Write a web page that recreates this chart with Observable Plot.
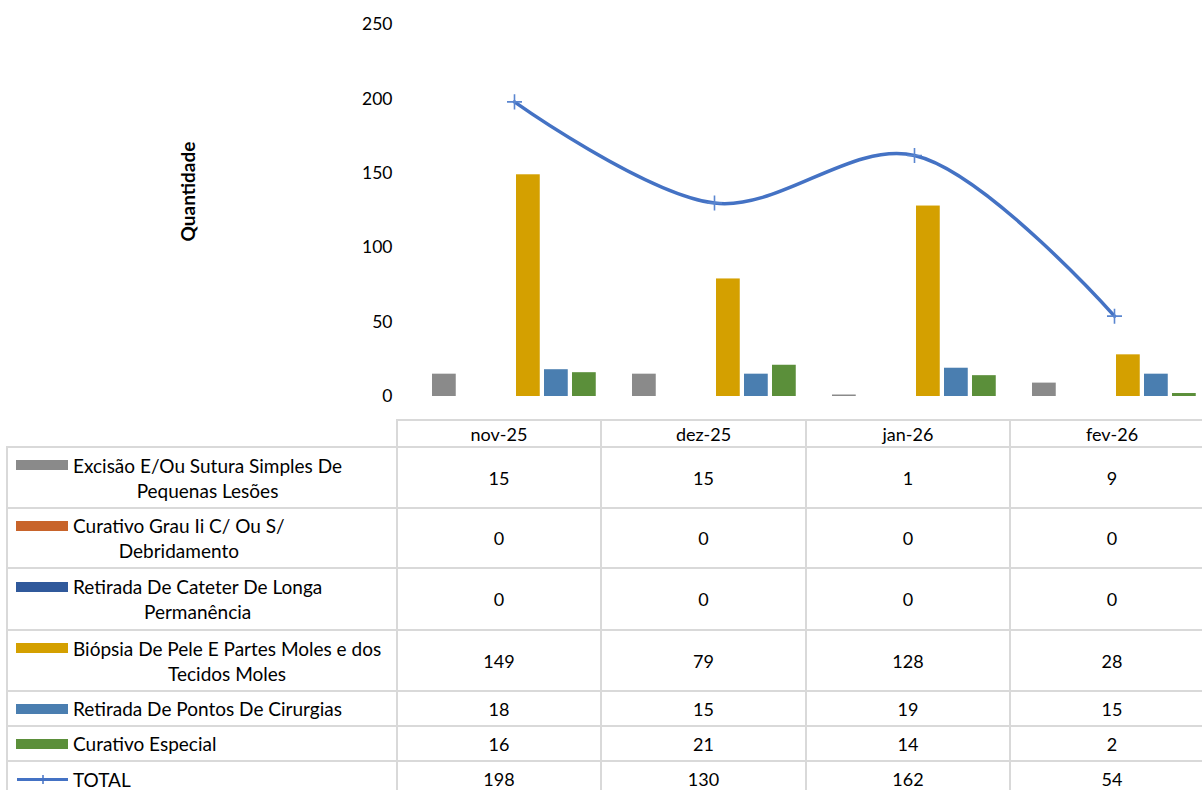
<!DOCTYPE html>
<html>
<head>
<meta charset="utf-8">
<script src="https://cdn.jsdelivr.net/npm/d3@7"></script>
<script src="https://cdn.jsdelivr.net/npm/@observablehq/plot@0.6"></script>
<style>
  html, body { margin: 0; padding: 0; background: #fff; }
  #wrap { position: relative; width: 1202px; height: 790px; overflow: hidden; font-family: Lato, "Open Sans", sans-serif; color: #000; }
  #chart { position: absolute; left: 0; top: 0; }
  .hl { position: absolute; height: 2px; background: #d9d9d9; }
  .vl { position: absolute; width: 2px; background: #d9d9d9; }
  .cell { position: absolute; display: flex; align-items: center; justify-content: center; font-size: 18px; }
  .lab { position: absolute; display: flex; align-items: center; font-size: 19px; }
  .lab .txt { white-space: pre-line; text-align: center; line-height: 25px; }
  .lab .key { flex: none; width: 52px; margin-left: 9px; margin-right: 5px; align-self: flex-start; }
</style>
</head>
<body>
<div id="wrap">
  <div id="chart"></div>
  <div id="table"></div>
</div>
<script>
// ---- data ----
const months = ["nov-25", "dez-25", "jan-26", "fev-26"];
const seriesNames = [
  "Excisão E/Ou Sutura Simples De\nPequenas Lesões",
  "Curativo Grau Ii C/ Ou S/\nDebridamento",
  "Retirada De Cateter De Longa\nPermanência",
  "Biópsia De Pele E Partes Moles e dos\nTecidos Moles",
  "Retirada De Pontos De Cirurgias",
  "Curativo Especial"
];
const totalName = "TOTAL";
const excisao = [15, 15, 1, 9];
const curativoGrau = [0, 0, 0, 0];
const retiradaCateter = [0, 0, 0, 0];
const biopsia = [149, 79, 128, 28];
const retiradaPontos = [18, 15, 19, 15];
const curativoEspecial = [16, 21, 14, 2];
const total = [198, 130, 162, 54];
const yTicks = [0, 50, 100, 150, 200, 250];
const yLabel = "Quantidade";

// ---- styles ----
const colors = ["#8a8a8a", "#c8642b", "#30599b", "#d4a000", "#4a7eb0", "#5b8f3a"];
const lineColor = "#4472c4";
const seriesValues = [excisao, curativoGrau, retiradaCateter, biopsia, retiradaPontos, curativoEspecial];

const xRange = [413, 1214];
const bandW = (xRange[1] - xRange[0]) / months.length;
const barW = 24, barStep = 28, groupPad = 18;

const barMarks = seriesValues.map((vals, k) => {
  const data = months.map((m, i) => ({month: m, value: vals[i]}));
  const left = groupPad + barStep * k;
  return Plot.barY(data, {
    x: "month", y: "value", fill: colors[k],
    insetLeft: left, insetRight: bandW - left - barW
  });
});
const totalData = months.map((m, i) => ({month: m, value: total[i]}));

const chart = Plot.plot({
  width: 1202, height: 420,
  marginTop: 24, marginBottom: 24, marginLeft: 397, marginRight: 0,
  style: {fontFamily: "Lato, 'Open Sans', sans-serif", fontSize: "17px", color: "#000", background: "transparent"},
  x: {domain: months, range: xRange, padding: 0, axis: null},
  y: {domain: [0, 250], axis: null},
  marks: [
    Plot.axisY({ticks: yTicks, tickSize: 0, tickPadding: 5, label: null, fontSize: 17.5, fill: "#000"}),
    ...barMarks,
    Plot.line(totalData, {x: "month", y: "value", curve: "catmull-rom", stroke: lineColor, strokeWidth: 3.5}),
    Plot.dot(totalData, {x: "month", y: "value", symbol: "plus", r: 4.9, stroke: "#5a86d0", strokeWidth: 1.6}),
    Plot.text([yLabel], {text: d => d, frameAnchor: "left", textAnchor: "middle", rotate: -90, dx: -209, dy: -19, fontWeight: "bold", fontSize: 19, fill: "#000"})
  ]
});
document.getElementById("chart").appendChild(chart);

// ---- data table ----
const rowTops = [420, 447, 508, 568, 630, 691, 726, 761, 797];
const colLefts = [7, 397, 601, 806, 1010, 1214];
const tbl = document.getElementById("table");
function add(cls, st, html) {
  const d = document.createElement("div");
  d.className = cls;
  Object.assign(d.style, st);
  if (html != null) d.innerHTML = html;
  tbl.appendChild(d);
  return d;
}
// horizontal lines
rowTops.forEach((y, r) => {
  const x0 = r === 0 ? colLefts[1] : colLefts[0];
  add("hl", {left: (x0 - 1) + "px", top: (y - 1) + "px", width: (colLefts[colLefts.length - 1] - x0 + 2) + "px"});
});
// vertical lines
colLefts.forEach((x, c) => {
  const y0 = c === 0 ? rowTops[1] : rowTops[0];
  add("vl", {left: (x - 1) + "px", top: (y0 - 1) + "px", height: (rowTops[rowTops.length - 1] - y0 + 2) + "px"});
});
// header
months.forEach((m, i) => {
  add("cell", {left: colLefts[i + 1] + "px", top: rowTops[0] + "px", width: (colLefts[i + 2] - colLefts[i + 1]) + "px", height: (rowTops[1] - rowTops[0]) + "px"}, m);
});
const rowVals = [...seriesValues, total];
const rowNames = [...seriesNames, totalName];
rowNames.forEach((name, r) => {
  const top = rowTops[r + 1], h = rowTops[r + 2] - top;
  const lab = add("lab", {left: colLefts[0] + "px", top: top + "px", width: (colLefts[1] - colLefts[0]) + "px", height: h + "px"});
  const inner = document.createElement("div");
  inner.style.display = "flex";
  const key = document.createElement("div");
  key.className = "key";
  if (r < seriesNames.length) {
    key.style.height = "10px";
    key.style.marginTop = "7.5px";
    key.style.background = colors[r];
  } else {
    key.style.height = "25px";
    key.innerHTML = `<svg width="52" height="25"><line x1="1" x2="52" y1="12.5" y2="12.5" stroke="${lineColor}" stroke-width="3"/><line x1="27" x2="27" y1="8" y2="17" stroke="${lineColor}" stroke-width="1.5"/></svg>`;
  }
  const txt = document.createElement("div");
  txt.className = "txt";
  txt.textContent = name;
  inner.appendChild(key);
  inner.appendChild(txt);
  lab.appendChild(inner);
  rowVals[r].forEach((v, i) => {
    add("cell", {left: colLefts[i + 1] + "px", top: top + "px", width: (colLefts[i + 2] - colLefts[i + 1]) + "px", height: h + "px"}, String(v));
  });
});
</script>
</body>
</html>
